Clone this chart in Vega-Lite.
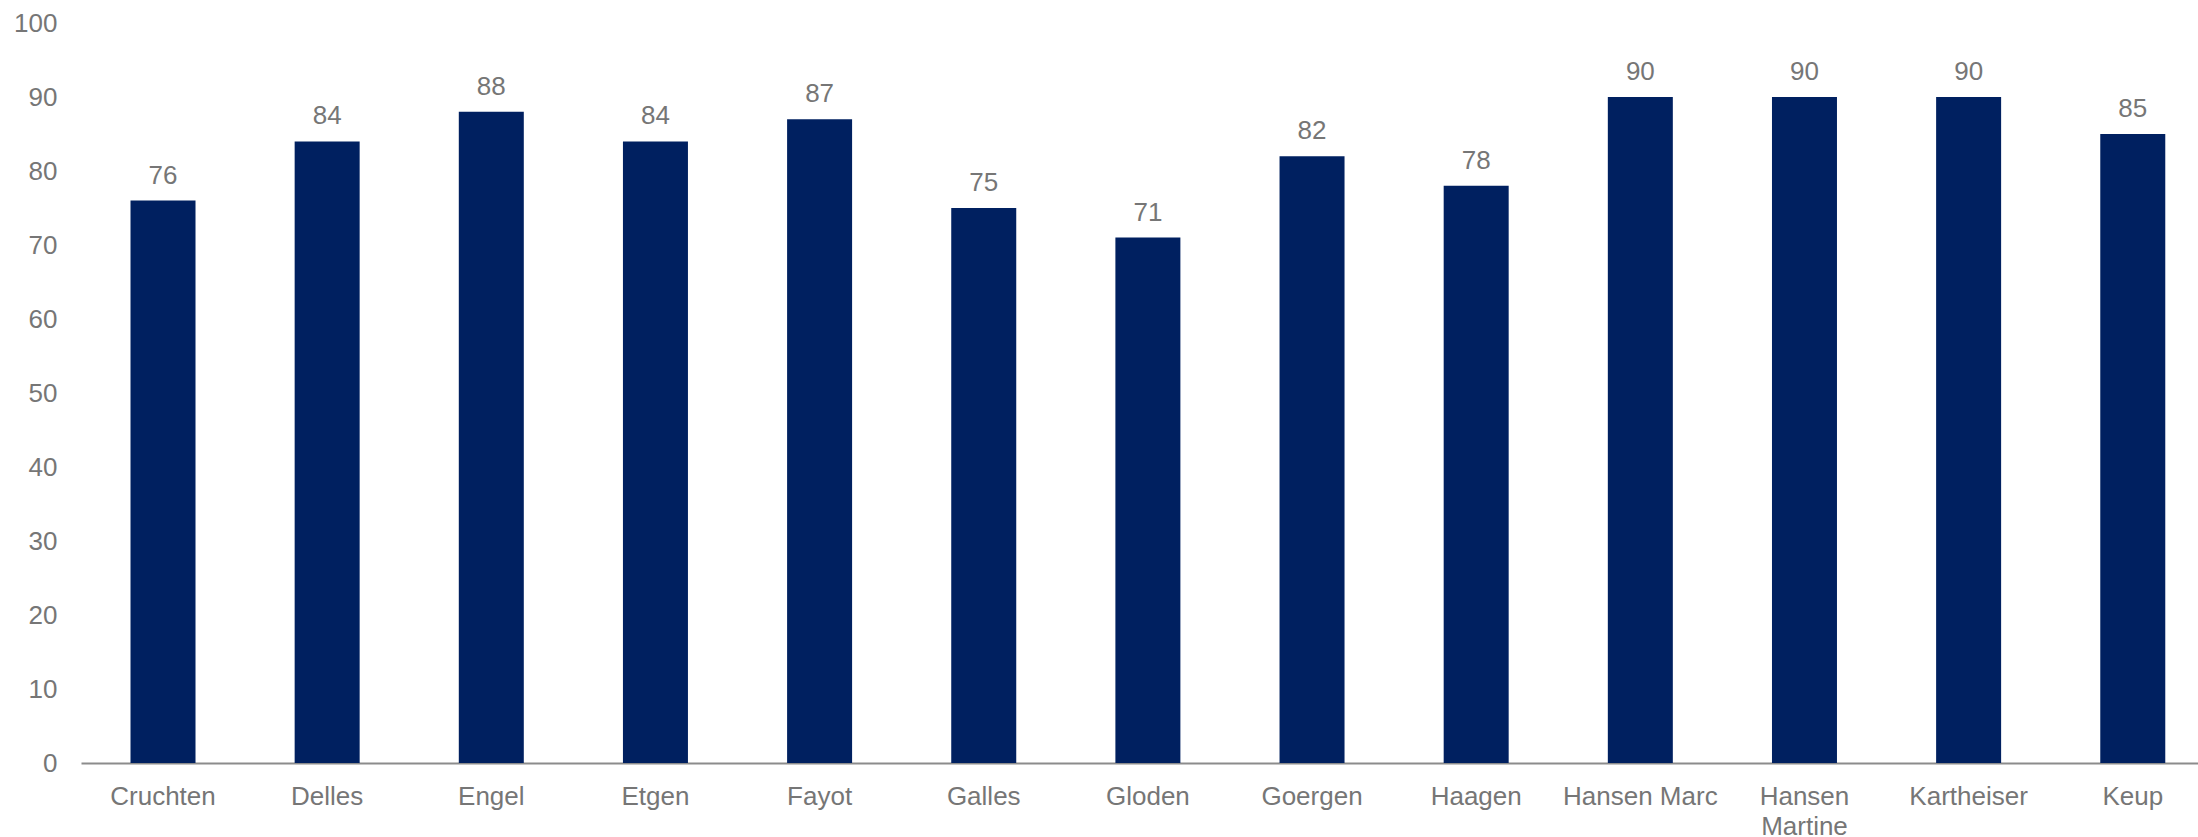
{
  "$schema": "https://vega.github.io/schema/vega-lite/v6.json",
  "autosize": {"type": "none"},
  "width": 2117,
  "height": 740,
  "padding": {"left": 81, "top": 23, "right": 0, "bottom": 74},
  "background": "white",
  "config": {
    "view": {"stroke": null},
    "font": "Liberation Sans"
  },
  "data": {
    "values": [
      {"name": "Cruchten", "value": 76},
      {"name": "Delles", "value": 84},
      {"name": "Engel", "value": 88},
      {"name": "Etgen", "value": 84},
      {"name": "Fayot", "value": 87},
      {"name": "Galles", "value": 75},
      {"name": "Gloden", "value": 71},
      {"name": "Goergen", "value": 82},
      {"name": "Haagen", "value": 78},
      {"name": "Hansen Marc", "value": 90},
      {"name": "Hansen Martine", "value": 90},
      {"name": "Kartheiser", "value": 90},
      {"name": "Keup", "value": 85}
    ]
  },
  "encoding": {
    "x": {
      "field": "name",
      "type": "nominal",
      "sort": null,
      "scale": {"paddingInner": 0.604, "paddingOuter": 0.2505, "align": 0.602},
      "axis": {
        "title": null,
        "labelAngle": 0,
        "ticks": false,
        "labelPadding": 20,
        "labelFontSize": 26,
        "labelColor": "#767676",
        "labelFont": "Liberation Sans",
        "labelLimit": 0,
        "labelOverlap": false,
        "labelLineHeight": 30,
        "labelBaseline": "top",
        "domainColor": "#8c8c8c",
        "domainWidth": 2,
        "labelExpr": "datum.label == 'Hansen Martine' ? ['Hansen', 'Martine'] : datum.label"
      }
    },
    "y": {
      "field": "value",
      "type": "quantitative",
      "scale": {"domain": [0, 100], "nice": false},
      "axis": {
        "title": null,
        "values": [0, 10, 20, 30, 40, 50, 60, 70, 80, 90, 100],
        "domain": false,
        "ticks": false,
        "grid": false,
        "labelPadding": 24,
        "labelFontSize": 26,
        "labelColor": "#767676",
        "labelFont": "Liberation Sans"
      }
    }
  },
  "layer": [
    {"mark": {"type": "bar", "color": "#002060"}},
    {
      "mark": {"type": "text", "baseline": "alphabetic", "dy": -17, "fontSize": 26, "color": "#767676", "font": "Liberation Sans"},
      "encoding": {"text": {"field": "value", "type": "quantitative"}}
    }
  ]
}
